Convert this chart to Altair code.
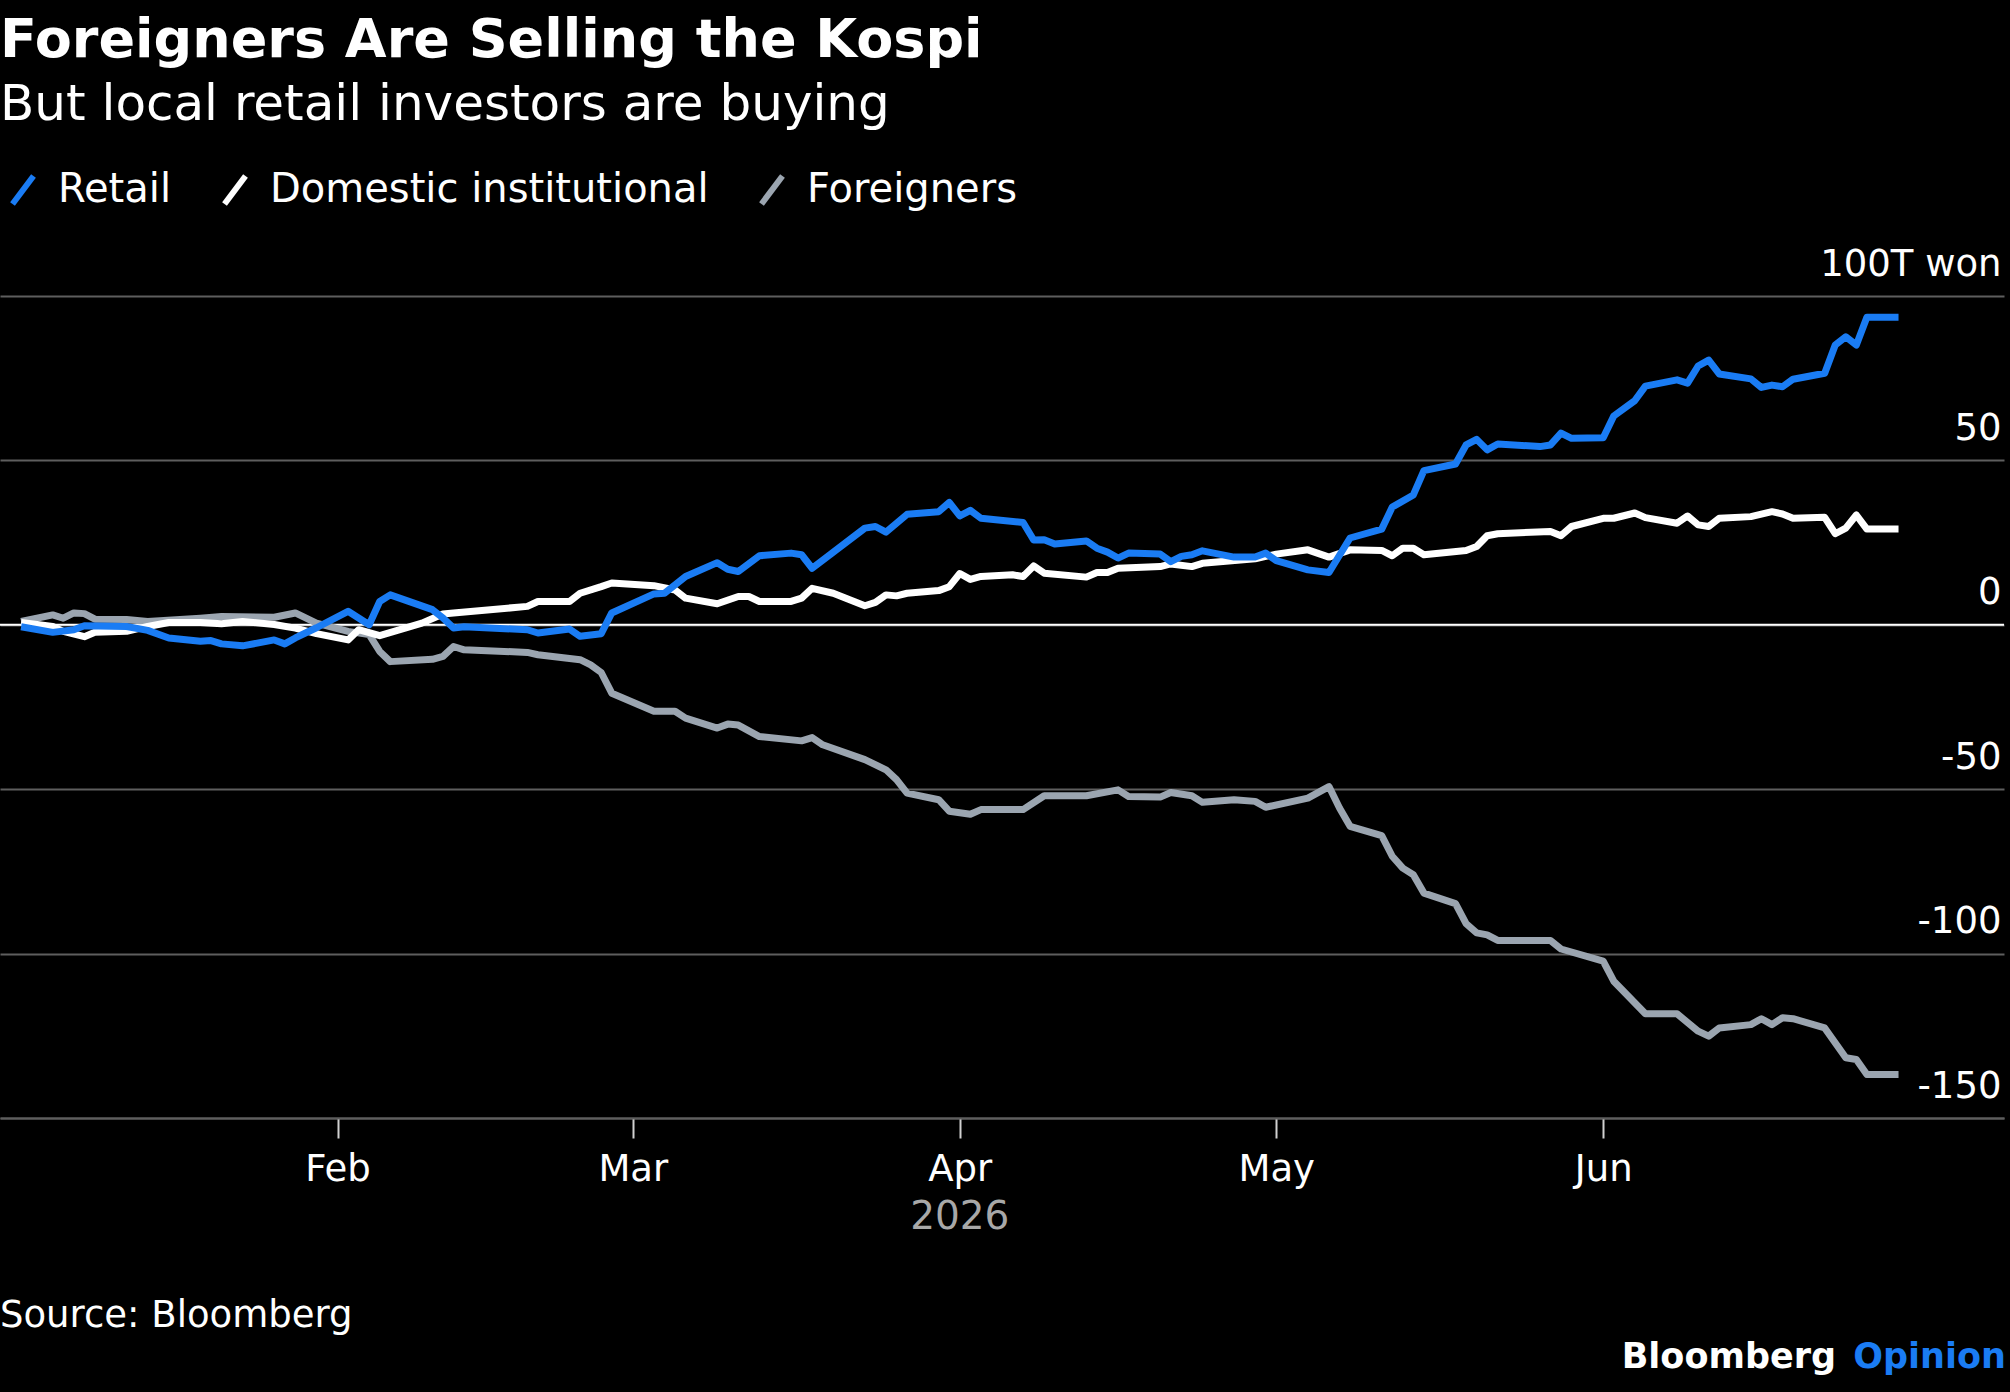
import altair as alt
import pandas as pd

# Cumulative net buying of Kospi shares since the start of 2026 (trillion won)
retail_dates = [
    "2026-01-02", "2026-01-05", "2026-01-07", "2026-01-08", "2026-01-12", "2026-01-14",
    "2026-01-16", "2026-01-19", "2026-01-20", "2026-01-21", "2026-01-23", "2026-01-26",
    "2026-01-27", "2026-01-28", "2026-01-30", "2026-02-02", "2026-02-04", "2026-02-05",
    "2026-02-06", "2026-02-10", "2026-02-11", "2026-02-12", "2026-02-13", "2026-02-19",
    "2026-02-20", "2026-02-23", "2026-02-24", "2026-02-26", "2026-02-27", "2026-03-03",
    "2026-03-04", "2026-03-06", "2026-03-09", "2026-03-10", "2026-03-11", "2026-03-13",
    "2026-03-16", "2026-03-17", "2026-03-18", "2026-03-23", "2026-03-24", "2026-03-25",
    "2026-03-27", "2026-03-30", "2026-03-31", "2026-04-01", "2026-04-02", "2026-04-03",
    "2026-04-07", "2026-04-08", "2026-04-09", "2026-04-10", "2026-04-13", "2026-04-14",
    "2026-04-15", "2026-04-16", "2026-04-17", "2026-04-20", "2026-04-21", "2026-04-22",
    "2026-04-23", "2026-04-24", "2026-04-27", "2026-04-29", "2026-04-30", "2026-05-01",
    "2026-05-04", "2026-05-06", "2026-05-08", "2026-05-11", "2026-05-12", "2026-05-14",
    "2026-05-15", "2026-05-18", "2026-05-19", "2026-05-20", "2026-05-21", "2026-05-22",
    "2026-05-26", "2026-05-27", "2026-05-28", "2026-05-29", "2026-06-01", "2026-06-02",
    "2026-06-04", "2026-06-05", "2026-06-08", "2026-06-09", "2026-06-10", "2026-06-11",
    "2026-06-12", "2026-06-15", "2026-06-16", "2026-06-17", "2026-06-18", "2026-06-19",
    "2026-06-22", "2026-06-23", "2026-06-24", "2026-06-25", "2026-06-26", "2026-06-29",
]
retail_values = [
    -0.6, -2.3, -1.5, -0.3, -0.5, -1.7,
    -4.0, -5.0, -4.8, -5.8, -6.4, -4.6,
    -5.8, -4.0, -0.9, 4.1, 0.0, 7.1,
    9.1, 4.6, 2.1, -1.0, -0.6, -1.5,
    -2.5, -1.3, -3.5, -2.7, 3.6, 9.4,
    9.6, 14.7, 18.9, 16.9, 16.2, 21.0,
    21.8, 21.3, 17.2, 29.4, 29.9, 28.2,
    33.6, 34.4, 37.2, 33.1, 34.8, 32.4,
    31.1, 25.8, 25.9, 24.6, 25.5, 23.3,
    22.1, 20.3, 21.8, 21.5, 19.2, 20.8,
    21.3, 22.5, 20.6, 20.6, 21.8, 19.5,
    16.7, 15.9, 26.4, 29.1, 35.8, 39.5,
    46.9, 48.9, 54.7, 56.4, 53.2, 55.0,
    54.2, 54.7, 58.3, 56.7, 56.9, 63.5,
    68.2, 72.6, 74.5, 73.5, 78.7, 80.5,
    76.3, 74.8, 72.2, 72.9, 72.4, 74.7,
    76.5, 85.1, 87.6, 85.1, 93.5, 93.5,
]

domestic_dates = [
    "2026-01-02", "2026-01-05", "2026-01-06", "2026-01-08", "2026-01-09", "2026-01-12",
    "2026-01-14", "2026-01-16", "2026-01-19", "2026-01-21", "2026-01-23", "2026-01-26",
    "2026-01-28", "2026-01-30", "2026-02-02", "2026-02-03", "2026-02-05", "2026-02-09",
    "2026-02-11", "2026-02-12", "2026-02-19", "2026-02-20", "2026-02-23", "2026-02-24",
    "2026-02-26", "2026-02-27", "2026-03-03", "2026-03-05", "2026-03-06", "2026-03-09",
    "2026-03-11", "2026-03-12", "2026-03-13", "2026-03-16", "2026-03-17", "2026-03-18",
    "2026-03-20", "2026-03-23", "2026-03-24", "2026-03-25", "2026-03-26", "2026-03-27",
    "2026-03-30", "2026-03-31", "2026-04-01", "2026-04-02", "2026-04-03", "2026-04-06",
    "2026-04-07", "2026-04-08", "2026-04-09", "2026-04-13", "2026-04-14", "2026-04-15",
    "2026-04-16", "2026-04-20", "2026-04-21", "2026-04-23", "2026-04-24", "2026-04-29",
    "2026-05-01", "2026-05-04", "2026-05-06", "2026-05-08", "2026-05-11", "2026-05-12",
    "2026-05-13", "2026-05-14", "2026-05-15", "2026-05-19", "2026-05-20", "2026-05-21",
    "2026-05-22", "2026-05-27", "2026-05-28", "2026-05-29", "2026-06-01", "2026-06-02",
    "2026-06-04", "2026-06-05", "2026-06-08", "2026-06-09", "2026-06-10", "2026-06-11",
    "2026-06-12", "2026-06-15", "2026-06-17", "2026-06-18", "2026-06-19", "2026-06-22",
    "2026-06-23", "2026-06-24", "2026-06-25", "2026-06-26", "2026-06-29",
]
domestic_values = [
    0.7, -0.5, -2.0, -3.6, -2.3, -2.0,
    -0.5, 0.7, 0.7, 0.3, 1.0, 0.1,
    -1.0, -2.7, -4.6, -1.5, -3.3, 0.5,
    3.3, 3.6, 5.6, 7.1, 7.1, 9.6,
    11.6, 12.7, 11.9, 10.6, 8.1, 6.4,
    8.6, 8.6, 7.1, 7.1, 8.1, 11.1,
    9.6, 5.8, 6.8, 9.1, 8.8, 9.6,
    10.4, 11.6, 15.6, 13.8, 14.7, 15.2,
    14.7, 17.9, 15.7, 14.5, 15.9, 15.9,
    17.2, 17.7, 18.5, 17.7, 18.7, 20.1,
    21.5, 22.8, 20.6, 22.8, 22.6, 21.0,
    23.3, 23.3, 21.3, 22.6, 23.8, 27.1,
    27.7, 28.4, 27.1, 29.9, 32.4, 32.4,
    34.0, 32.6, 30.9, 33.1, 30.4, 29.9,
    32.4, 32.9, 34.4, 33.7, 32.4, 32.7,
    27.7, 29.4, 33.4, 29.1, 29.1,
]

foreign_dates = [
    "2026-01-02", "2026-01-05", "2026-01-06", "2026-01-07", "2026-01-08", "2026-01-09",
    "2026-01-12", "2026-01-14", "2026-01-19", "2026-01-21", "2026-01-26", "2026-01-28",
    "2026-01-30", "2026-02-02", "2026-02-04", "2026-02-05", "2026-02-06", "2026-02-10",
    "2026-02-11", "2026-02-12", "2026-02-13", "2026-02-19", "2026-02-20", "2026-02-24",
    "2026-02-25", "2026-02-26", "2026-02-27", "2026-03-03", "2026-03-05", "2026-03-06",
    "2026-03-09", "2026-03-10", "2026-03-11", "2026-03-13", "2026-03-17", "2026-03-18",
    "2026-03-19", "2026-03-23", "2026-03-25", "2026-03-26", "2026-03-27", "2026-03-30",
    "2026-03-31", "2026-04-02", "2026-04-03", "2026-04-07", "2026-04-09", "2026-04-13",
    "2026-04-16", "2026-04-17", "2026-04-20", "2026-04-21", "2026-04-23", "2026-04-24",
    "2026-04-27", "2026-04-29", "2026-04-30", "2026-05-04", "2026-05-06", "2026-05-07",
    "2026-05-08", "2026-05-11", "2026-05-12", "2026-05-13", "2026-05-14", "2026-05-15",
    "2026-05-18", "2026-05-19", "2026-05-20", "2026-05-21", "2026-05-22", "2026-05-27",
    "2026-05-28", "2026-06-01", "2026-06-02", "2026-06-05", "2026-06-08", "2026-06-10",
    "2026-06-11", "2026-06-12", "2026-06-15", "2026-06-16", "2026-06-17", "2026-06-18",
    "2026-06-19", "2026-06-22", "2026-06-24", "2026-06-25", "2026-06-26", "2026-06-29",
]
foreign_values = [
    1.0, 3.0, 2.0, 3.6, 3.4, 1.7,
    1.6, 1.0, 2.0, 2.5, 2.3, 3.6,
    0.5, -2.0, -3.0, -8.1, -11.2, -10.5,
    -9.6, -6.6, -7.6, -8.4, -9.1, -10.6,
    -12.2, -14.5, -20.8, -26.3, -26.3, -28.4,
    -31.4, -30.2, -30.5, -34.0, -35.3, -34.3,
    -36.5, -41.0, -44.1, -47.1, -51.2, -53.2,
    -56.7, -57.6, -56.2, -56.2, -52.0, -52.0,
    -50.2, -52.2, -52.4, -51.0, -52.0, -54.0,
    -53.2, -53.7, -55.5, -52.7, -49.2, -55.7,
    -61.3, -64.1, -70.4, -74.0, -76.0, -81.6,
    -84.8, -90.9, -93.7, -94.3, -96.0, -96.0,
    -98.6, -102.3, -108.4, -118.3, -118.3, -123.6,
    -125.1, -122.6, -121.6, -119.8, -121.6, -119.5,
    -119.8, -122.6, -131.7, -132.2, -136.8, -136.8,
]

series_names = ["Retail", "Domestic institutional", "Foreigners"]
series_colors = ["#1A7CF4", "#FFFFFF", "#9BA5B0"]
y_ticks = [-150, -100, -50, 0, 50, 100]
month_ticks = [2, 3, 4, 5, 6]

frames = []
for name, dates, values in zip(
    series_names,
    [retail_dates, domestic_dates, foreign_dates],
    [retail_values, domestic_values, foreign_values],
):
    frames.append(pd.DataFrame({"date": pd.to_datetime(dates), "value": values, "series": name}))
df = pd.concat(frames, ignore_index=True)

FONT = "DejaVu Sans"
W, H = 2004, 822
GRID = "#5E5E5E"

x_scale = alt.Scale(domain=[alt.DateTime(year=2025, month=12, date=31),
                            alt.DateTime(year=2026, month=7, date=9)])
x_axis = alt.Axis(
    values=[alt.DateTime(year=2026, month=m, date=1) for m in month_ticks],
    format="%b", title=None, grid=False,
    domainColor=GRID, domainWidth=2,
    tickColor="#D0D0D0", tickWidth=2, tickSize=20,
    labelPadding=13, labelFont=FONT, labelFontSize=37, labelColor="white",
)
y_scale = alt.Scale(domain=[-150, 100], nice=False, zero=False)
y_axis = alt.Axis(
    orient="right", values=y_ticks, title=None,
    grid=True, gridColor=GRID, gridWidth=2,
    domain=False, ticks=False, tickSize=0,
    labelAlign="right", labelBaseline="alphabetic", labelOffset=-21, labelPadding=-3,
    labelLimit=0,
    labelExpr="datum.value == 100 ? '100T won' : (datum.value < 0 ? '-' + abs(datum.value) : '' + datum.value)",
    labelFont=FONT, labelFontSize=37, labelColor="white",
)
legend = alt.Legend(
    orient="none", legendX=3, legendY=-126, direction="horizontal", columns=3,
    title=None, symbolType="M-0.75,1L0.75,-1", symbolSize=784, symbolStrokeWidth=6,
    labelFont=FONT, labelFontSize=40, labelColor="white", labelOffset=15, labelLimit=0,
    columnPadding=40, padding=0,
)
color_enc = alt.Color("series:N", scale=alt.Scale(domain=series_names, range=series_colors), legend=legend)

zero_rule = alt.Chart(pd.DataFrame({"value": [0]})).mark_rule(color="white", strokeWidth=2).encode(
    y=alt.Y("value:Q", scale=y_scale, axis=y_axis)
)

line_layers = []
for name in ["Foreigners", "Domestic institutional", "Retail"]:
    line_layers.append(
        alt.Chart(df).transform_filter(alt.datum.series == name)
        .mark_line(strokeWidth=7, strokeJoin="round")
        .encode(
            x=alt.X("date:T", scale=x_scale, axis=x_axis),
            y=alt.Y("value:Q", scale=y_scale, axis=y_axis),
            color=color_enc,
        )
    )

year_label = alt.Chart(pd.DataFrame({"date": [pd.Timestamp("2026-04-01")], "label": ["2026"]})).mark_text(
    font=FONT, fontSize=39, color="#A8A8A8", align="center", baseline="alphabetic"
).encode(
    x=alt.X("date:T", scale=x_scale, axis=x_axis),
    y=alt.value(933),
    text="label:N",
)

source_note = alt.Chart(pd.DataFrame({"t": ["Source: Bloomberg"]})).mark_text(
    font=FONT, fontSize=37, color="white", align="left", baseline="alphabetic"
).encode(x=alt.value(0), y=alt.value(1031), text="t:N")

brand_main = alt.Chart(pd.DataFrame({"t": ["Bloomberg"]})).mark_text(
    font=FONT, fontSize=35, fontWeight="bold", color="white", align="right", baseline="alphabetic"
).encode(x=alt.value(1836), y=alt.value(1072), text="t:N")

brand_accent = alt.Chart(pd.DataFrame({"t": ["Opinion"]})).mark_text(
    font=FONT, fontSize=35, fontWeight="bold", color="#1A7CF4", align="right", baseline="alphabetic"
).encode(x=alt.value(2006), y=alt.value(1072), text="t:N")

chart = alt.layer(
    zero_rule, *line_layers, year_label, source_note, brand_main, brand_accent
).properties(
    width=W,
    height=H,
    autosize=alt.AutoSizeParams(type="none"),
    padding={"left": 0, "top": 296, "right": 6, "bottom": 274},
    title=alt.TitleParams(
        text="Foreigners Are Selling the Kospi",
        subtitle="But local retail investors are buying",
        anchor="start", frame="group", orient="top", offset=40,
        font=FONT, fontSize=54, fontWeight="bold", color="white",
        subtitleFont=FONT, subtitleFontSize=50, subtitleColor="white", subtitlePadding=12,
    ),
).configure(
    background="black", font=FONT
).configure_view(stroke=None)

chart.save("out.html", embed_options={"renderer": "svg", "actions": False})
